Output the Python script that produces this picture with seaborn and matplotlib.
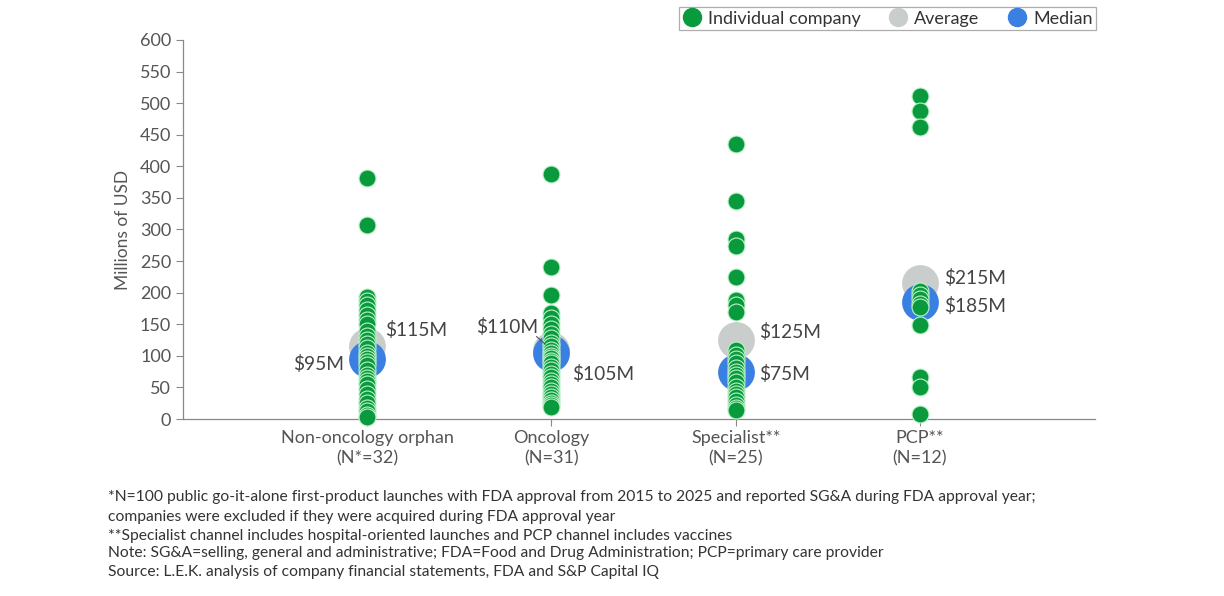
import pandas as pd
import matplotlib.pyplot as plt
import seaborn as sns
from matplotlib.lines import Line2D

# Data (millions of USD)
categories = ["Non-oncology orphan\n(N*=32)", "Oncology\n(N=31)",
              "Specialist**\n(N=25)", "PCP**\n(N=12)"]
non_onc = [381, 307, 193, 187, 180, 172, 165, 157, 150, 140, 132, 125, 118, 112, 105, 100,
           95, 90, 85, 78, 70, 65, 60, 55, 48, 40, 32, 25, 18, 12, 7, 3]
oncology = [388, 240, 197, 168, 160, 150, 142, 135, 128, 120, 115, 110, 105, 100, 96, 92,
            88, 82, 78, 72, 66, 60, 55, 50, 45, 40, 35, 30, 26, 22, 19]
specialist = [435, 345, 285, 274, 225, 188, 180, 170, 110, 102, 95, 88, 80, 75, 70, 65,
              58, 50, 45, 40, 35, 28, 22, 18, 15]
pcp = [511, 488, 462, 203, 196, 190, 182, 178, 149, 67, 51, 8]
averages = [115, 110, 125, 215]
medians = [95, 105, 75, 185]
avg_labels = ["$115M", "$110M", "$125M", "$215M"]
med_labels = ["$95M", "$105M", "$75M", "$185M"]

GREEN = "#0a9a3e"
GREY = "#c9cecd"
BLUE = "#3a7fe2"
TXT = "#444444"

points = pd.DataFrame({
    "cat": [categories[0]] * len(non_onc) + [categories[1]] * len(oncology)
           + [categories[2]] * len(specialist) + [categories[3]] * len(pcp),
    "value": non_onc + oncology + specialist + pcp,
})
stats = pd.DataFrame({"cat": categories, "avg": averages, "med": medians})

sns.set_style("white")
plt.rcParams["font.family"] = ["Lato", "DejaVu Sans"]

fig = plt.figure(figsize=(12.24, 5.96), dpi=100)
ax = fig.add_axes([183 / 1224, 1 - 419 / 596, (1095 - 183) / 1224, (419 - 40) / 596])

sns.stripplot(data=stats, x="cat", y="avg", order=categories, jitter=False,
              color=GREY, size=26.5, linewidth=0, ax=ax, zorder=2)
sns.stripplot(data=stats, x="cat", y="med", order=categories, jitter=False,
              color=BLUE, size=26.5, linewidth=0, ax=ax, zorder=3)
sns.stripplot(data=points, x="cat", y="value", order=categories, jitter=False,
              color=GREEN, size=12.2, edgecolor="#bdf2c8", linewidth=0.8, ax=ax, zorder=4)
for c in ax.collections:
    c.set_clip_on(False)

ax.set_xlim(-1, 3.95)
ax.set_ylim(0, 600)
ax.set_yticks(range(0, 601, 50))
ax.set_xlabel("")
ax.set_ylabel("Millions of USD", fontsize=12.5, color="#555555", labelpad=6)
ax.tick_params(axis="both", labelsize=13, labelcolor="#555555", color="#888888",
               direction="out", length=5, width=0.8, left=True, bottom=True)
ax.tick_params(axis="x", pad=3)
for lab in ax.get_xticklabels():
    lab.set_linespacing(1.35)
for side in ["top", "right"]:
    ax.spines[side].set_visible(False)
for side in ["left", "bottom"]:
    ax.spines[side].set_color("#888888")
    ax.spines[side].set_linewidth(0.9)

# value labels (offsets in pixels)
avg_off = [(18, 16, "left"), (-13, 23, "right"), (23, 8, "left"), (24, 5, "left")]
med_off = [(-23, -5, "right"), (21, -21, "left"), (23, -2, "left"), (24, -4, "left")]
for i in range(4):
    dx, dy, ha = avg_off[i]
    ax.annotate(avg_labels[i], (i, averages[i]), xytext=(dx, dy), textcoords="offset pixels",
                ha=ha, va="center", fontsize=13.8, color=TXT, zorder=5)
    dx, dy, ha = med_off[i]
    ax.annotate(med_labels[i], (i, medians[i]), xytext=(dx, dy), textcoords="offset pixels",
                ha=ha, va="center", fontsize=13.8, color=TXT, zorder=5)
# leader line for oncology average
ax.annotate("", xy=(1, averages[1]), xytext=(-15, 13), textcoords="offset pixels",
            arrowprops=dict(arrowstyle="-", color="#555555", lw=0.8,
                            shrinkA=0, shrinkB=6), zorder=6)

handles = [
    Line2D([], [], marker="o", ls="", color=GREEN, markersize=13, label="Individual company"),
    Line2D([], [], marker="o", ls="", color=GREY, markersize=13, label="Average"),
    Line2D([], [], marker="o", ls="", color=BLUE, markersize=13, label="Median"),
]
leg = fig.legend(handles=handles, ncol=3, loc="upper right",
                 bbox_to_anchor=(1096 / 1224, 1 - 7 / 596), fontsize=13,
                 frameon=True, fancybox=False, handletextpad=0.35, columnspacing=1.5,
                 borderpad=0.2, handlelength=1.1, borderaxespad=0)
leg.get_frame().set_edgecolor("#999999")
leg.get_frame().set_linewidth(0.9)
for t in leg.get_texts():
    t.set_color("#333333")

notes = [
    "*N=100 public go-it-alone first-product launches with FDA approval from 2015 to 2025 and reported SG&A during FDA approval year;",
    "companies were excluded if they were acquired during FDA approval year",
    "**Specialist channel includes hospital-oriented launches and PCP channel includes vaccines",
    "Note: SG&A=selling, general and administrative; FDA=Food and Drug Administration; PCP=primary care provider",
    "Source: L.E.K. analysis of company financial statements, FDA and S&P Capital IQ",
]
note_y = [497, 517, 536, 553, 572]
for txt, y in zip(notes, note_y):
    fig.text(108 / 1224, 1 - y / 596, txt, fontsize=11.25, color="#333333", va="center", ha="left")

fig.savefig("out.png", dpi=100, facecolor="white")
